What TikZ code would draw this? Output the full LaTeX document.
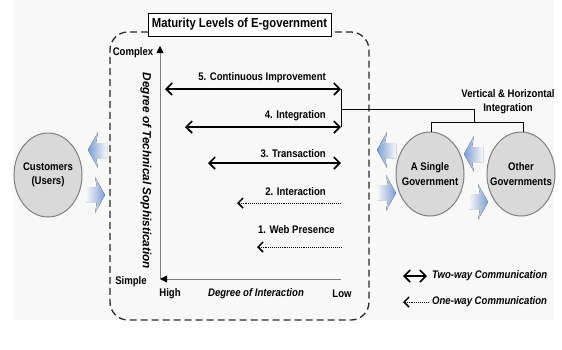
\documentclass[tikz,border=0pt]{standalone}
\usepackage{fontspec}
\setmainfont{Liberation Sans}[FakeStretch=0.87]
\newfontfamily\uprightlabel{Liberation Sans}
\usetikzlibrary{arrows.meta,shapes.geometric}

\definecolor{ellfill}{HTML}{D9D9D9}
\definecolor{ellline}{HTML}{7F7F7F}
\definecolor{flowblue}{HTML}{7E9CD4}
\definecolor{paper}{HTML}{F8F8F8}
\definecolor{framegray}{HTML}{2B2B2B}

\tikzset{
  lbl/.style={font=\bfseries\fontsize{11}{13}\selectfont, inner sep=0pt},
  ilbl/.style={font=\bfseries\itshape\fontsize{11}{13}\selectfont, inner sep=0pt},
  twoway/.style={line width=1.6pt,
    {Straight Barb[length=6pt,width=12pt]}-{Straight Barb[length=6pt,width=12pt]}},
  oneway/.style={line width=0.9pt, densely dotted,
    {Straight Barb[length=5pt,width=10pt,line width=1.5pt]}-},
  axis/.style={line width=0.8pt, draw=ellline,
    -{Triangle[length=7pt,width=7pt,color=black]}},
  frame/.style={line width=1.3pt, draw=framegray, dash pattern=on 7pt off 4pt,
    rounded corners=18pt},
  party/.style={ellipse, draw=ellline, line width=1pt, fill=ellfill,
    minimum width=68pt, minimum height=84pt, inner sep=0pt},
  partytext/.style={align=center, inner sep=0pt,
    font=\bfseries\fontsize{11}{14.5}\selectfont},
  link/.style={line width=0.9pt, draw=black},
  flowleft/.pic={
    \fill[left color=flowblue, right color=paper]
      (0,0) -- (10,-18) -- (8,-7) -- (19,-7) -- (19,8) -- (8,8) -- (10,18) -- cycle;
  },
  flowright/.pic={
    \fill[left color=paper, right color=flowblue]
      (0,0) -- (-10,-18) -- (-8,-8) -- (-19,-8) -- (-19,7) -- (-8,7) -- (-10,18) -- cycle;
  }
}

\begin{document}
\begin{tikzpicture}[x=1pt,y=-1pt]
\useasboundingbox (0,0) rectangle (562,349);
\fill[paper] (13,0) rectangle (554,320);

% information flows between the parties
\pic at (88,150) {flowleft};
\pic at (105,195) {flowright};
\pic at (377,150) {flowleft};
\pic at (396,193) {flowright};
\pic at (464,154) {flowleft};
\pic at (488,202) {flowright};

% framed maturity model
\node[draw, line width=1pt, fill=white, minimum width=183pt, minimum height=23pt,
      inner sep=0pt, font=\bfseries\fontsize{13}{15}\selectfont]
  (title) at (239.5,24.5) {Maturity Levels of E-government};
\coordinate (fL) at (148,32);
\coordinate (fR) at (331,32);
\draw[frame] (fL) -- (110,32) -- (110,320) -- (369,320) -- (369,32) -- (fR);

% axes
\coordinate (origin) at (160,279);
\coordinate (ytop) at (160,46);
\coordinate (xend) at (341,279);
\draw[axis] (origin) -- (ytop);
\draw[axis] (xend) -- (origin);

\node[lbl] (complex) at (133,53) {Complex};
\node[lbl] (simple) at (131,282) {Simple};
\node[lbl] (high) at (170,294) {High};
\node[ilbl] (xlabel) at (256,294) {Degree of Interaction};
\node[lbl] (low) at (342,294) {Low};
\node[rotate=-90, inner sep=0pt,
      font=\uprightlabel\bfseries\itshape\fontsize{11.8}{14}\selectfont]
  (ylabel) at (146,171) {Degree of Technical Sophistication};

% maturity levels
\coordinate (s5l) at (165,89);  \coordinate (s5r) at (341,89);
\coordinate (s4l) at (185,127); \coordinate (s4r) at (341,127);
\coordinate (s3l) at (208,163); \coordinate (s3r) at (341,163);
\coordinate (s2l) at (237,203); \coordinate (s2r) at (341,203);
\coordinate (s1l) at (257,247); \coordinate (s1r) at (341,247);

\draw[twoway] (s5l) -- (s5r);
\draw[twoway] (s4l) -- (s4r);
\draw[twoway] (s3l) -- (s3r);
\draw[oneway] (s2l) -- (s2r);
\draw[oneway] (s1l) -- (s1r);

\node[lbl, anchor=east] (t5) at (326,78) {5. Continuous Improvement};
\node[lbl, anchor=east] (t4) at (326,116) {4. Integration};
\node[lbl, anchor=east] (t3) at (326,154) {3. Transaction};
\node[lbl, anchor=east] (t2) at (326,192) {2. Interaction};
\node[lbl, anchor=east] (t1) at (335,230) {1. Web Presence};

% parties
\node[party] (cust) at (48,175) {};
\node[partytext] (custtext) at (cust.center) {Customers\\(Users)};
\node[party] (single) at (430,174) {};
\node[partytext] (singletext) at (single.center) {A Single\\Government};
\node[party] (other) at (521,174) {};
\node[partytext] (othertext) at (other.center) {Other\\Governments};

% vertical and horizontal integration links
\coordinate (jmid) at (341,109);
\coordinate (jcorner) at (474,109);
\coordinate (jdrop) at (474,122);
\coordinate (bl) at (431,122);
\coordinate (br) at (523,122);
\draw[link] (s5r) -- (s4r);
\draw[link] (jmid) -- (jcorner) -- (jdrop);
\draw[link] (single.north -| bl) -- (bl) -- (br) -- (other.north -| br);
\node[lbl, align=center, font=\bfseries\fontsize{11}{14}\selectfont]
  (integ) at (508,102) {Vertical \& Horizontal\\Integration};

% legend
\coordinate (lg1a) at (403,276); \coordinate (lg1b) at (427,276);
\coordinate (lg2a) at (403,302); \coordinate (lg2b) at (428,302);
\draw[twoway] (lg1a) -- (lg1b);
\draw[oneway] (lg2a) -- (lg2b);
\node[ilbl, anchor=west] (lgt1) at (432,276) {Two-way Communication};
\node[ilbl, anchor=west] (lgt2) at (432,302) {One-way Communication};
\end{tikzpicture}
\end{document}
